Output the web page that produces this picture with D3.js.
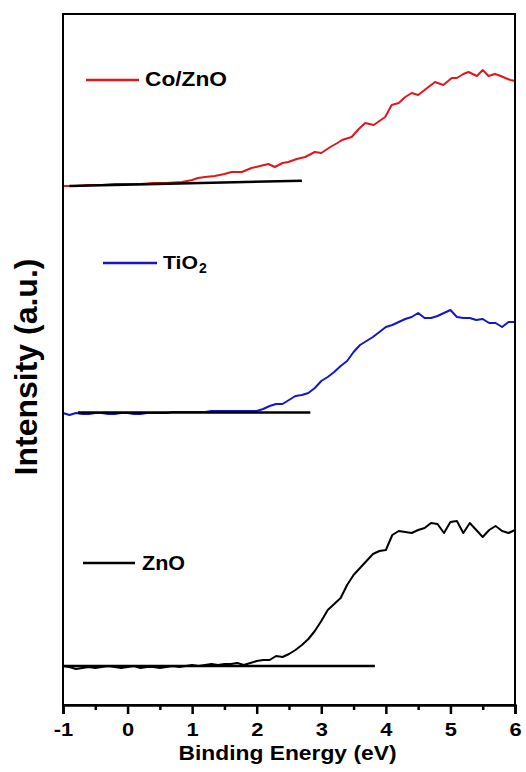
<!DOCTYPE html>
<html>
<head>
<meta charset="utf-8">
<script src="https://cdn.jsdelivr.net/npm/d3@7"></script>
<style>
  body { margin: 0; background: #fff; }
  text { font-family: "Liberation Sans", Arial, sans-serif; font-weight: bold; fill: #000; }
</style>
</head>
<body>
<div id="chart"></div>
<script>
// Binding energy (eV), intensity (a.u., curves stacked with offsets)
const znoSpectrum = [
  [-1.0,0.39],[-0.9,0.38],[-0.8,0.36],[-0.7,0.37],[-0.6,0.38],[-0.5,0.37],[-0.4,0.38],[-0.3,0.39],
  [-0.2,0.38],[-0.1,0.37],[0.0,0.38],[0.1,0.39],[0.2,0.37],[0.3,0.38],[0.4,0.38],[0.5,0.37],
  [0.6,0.38],[0.7,0.39],[0.8,0.38],[0.9,0.39],[1.0,0.40],[1.1,0.39],[1.2,0.40],[1.3,0.41],
  [1.4,0.40],[1.5,0.41],[1.6,0.41],[1.7,0.42],[1.8,0.40],[1.9,0.42],[2.0,0.44],[2.1,0.45],
  [2.2,0.45],[2.3,0.49],[2.4,0.48],[2.5,0.51],[2.6,0.55],[2.7,0.60],[2.8,0.66],[2.9,0.74],
  [3.0,0.84],[3.1,0.95],[3.2,1.01],[3.3,1.07],[3.4,1.20],[3.5,1.30],[3.6,1.37],[3.7,1.44],
  [3.8,1.51],[3.9,1.54],[4.0,1.55],[4.1,1.70],[4.2,1.74],[4.3,1.73],[4.4,1.72],[4.5,1.75],
  [4.6,1.77],[4.7,1.82],[4.8,1.81],[4.9,1.72],[5.0,1.83],[5.1,1.84],[5.2,1.72],[5.3,1.82],
  [5.4,1.75],[5.5,1.68],[5.6,1.75],[5.7,1.79],[5.8,1.74],[5.9,1.72],[6.0,1.75]
];

const tio2Spectrum = [
  [-1.0,2.92],[-0.9,2.90],[-0.8,2.92],[-0.7,2.91],[-0.6,2.91],[-0.5,2.92],[-0.4,2.92],[-0.3,2.91],
  [-0.2,2.91],[-0.1,2.92],[0.0,2.92],[0.1,2.91],[0.2,2.91],[0.3,2.92],[0.4,2.92],[0.5,2.92],
  [0.6,2.92],[0.7,2.93],[0.8,2.93],[0.9,2.93],[1.0,2.93],[1.1,2.93],[1.2,2.93],[1.3,2.94],
  [1.4,2.94],[1.5,2.94],[1.6,2.94],[1.7,2.94],[1.8,2.94],[1.9,2.94],[2.0,2.94],[2.1,2.96],
  [2.2,2.99],[2.3,3.01],[2.4,3.01],[2.5,3.05],[2.6,3.09],[2.7,3.10],[2.8,3.12],[2.9,3.17],
  [3.0,3.24],[3.1,3.28],[3.2,3.33],[3.3,3.39],[3.4,3.44],[3.5,3.53],[3.6,3.60],[3.7,3.64],
  [3.8,3.68],[3.9,3.73],[4.0,3.78],[4.1,3.80],[4.2,3.83],[4.3,3.86],[4.4,3.88],[4.5,3.92],
  [4.6,3.87],[4.7,3.87],[4.8,3.89],[4.9,3.92],[5.0,3.95],[5.1,3.88],[5.2,3.87],[5.3,3.87],
  [5.4,3.85],[5.5,3.86],[5.6,3.82],[5.7,3.82],[5.8,3.78],[5.9,3.83],[6.0,3.83]
];

const coznoSpectrum = [
  [-1.0,5.19],[-0.8,5.19],[-0.6,5.20],[-0.4,5.20],[-0.2,5.21],[-0.1,5.21],[0.1,5.21],[0.2,5.21],
  [0.4,5.22],[0.6,5.22],[0.84,5.23],[1.0,5.25],[1.09,5.27],[1.2,5.28],[1.35,5.29],[1.5,5.31],
  [1.61,5.33],[1.77,5.33],[1.92,5.37],[2.05,5.39],[2.18,5.41],[2.28,5.38],[2.4,5.42],[2.49,5.43],
  [2.62,5.46],[2.75,5.48],[2.9,5.53],[3.0,5.52],[3.14,5.58],[3.25,5.62],[3.32,5.65],[3.47,5.68],
  [3.58,5.76],[3.68,5.82],[3.81,5.80],[3.99,5.88],[4.09,6.00],[4.2,6.02],[4.3,6.08],[4.4,6.12],
  [4.5,6.10],[4.62,6.16],[4.76,6.23],[4.89,6.20],[5.02,6.27],[5.1,6.27],[5.2,6.31],[5.28,6.33],
  [5.41,6.29],[5.5,6.35],[5.59,6.29],[5.69,6.31],[5.78,6.29],[5.85,6.27],[5.93,6.25],[6.0,6.24]
];

// Linear baseline fits (black)
const znoFit = [[-1.0,0.39],[3.83,0.39]];
const tio2Fit = [[-0.77,2.925],[2.83,2.925]];
const coznoFit = [[-0.9,5.19],[2.7,5.243]];

const xTicks = [-1, 0, 1, 2, 3, 4, 5, 6];
const xMinorTicks = [-0.5, 0.5, 1.5, 2.5, 3.5, 4.5, 5.5];

const width = 526, height = 772;
const margin = { top: 14, right: 11, bottom: 67, left: 63 };
const innerW = width - margin.left - margin.right;
const innerH = height - margin.top - margin.bottom;

const svg = d3.select('#chart').append('svg')
  .attr('width', width)
  .attr('height', height);

const g = svg.append('g')
  .attr('transform', `translate(${margin.left},${margin.top})`);

const x = d3.scaleLinear().domain([-1, 6]).range([0, innerW]);
const y = d3.scaleLinear().domain([0, 6.91]).range([innerH, 0]);

const line = d3.line().x(d => x(d[0])).y(d => y(d[1]));

// curves
const series = [
  { data: coznoSpectrum, color: '#e3161c' },
  { data: tio2Spectrum, color: '#1515c9' },
  { data: znoSpectrum, color: '#000' }
];
series.forEach(s => {
  g.append('path')
    .datum(s.data)
    .attr('d', line)
    .attr('fill', 'none')
    .attr('stroke', s.color)
    .attr('stroke-width', 2)
    .attr('stroke-linejoin', 'round');
});

// baseline fits
[coznoFit, tio2Fit, znoFit].forEach(f => {
  g.append('path')
    .datum(f)
    .attr('d', line)
    .attr('fill', 'none')
    .attr('stroke', '#000')
    .attr('stroke-width', 2.5);
});

// frame
g.append('rect')
  .attr('width', innerW)
  .attr('height', innerH)
  .attr('fill', 'none')
  .attr('stroke', '#000')
  .attr('stroke-width', 2);

// bottom axis, major + minor ticks
const xAxisG = g.append('g')
  .attr('transform', `translate(0,${innerH})`)
  .call(d3.axisBottom(x).tickValues(xTicks).tickSize(9).tickPadding(9).tickFormat(d => String(d)));
xAxisG.select('.domain').attr('stroke-width', 2.5);
xAxisG.selectAll('.tick line').attr('stroke-width', 2.5);
xAxisG.selectAll('.tick text')
  .attr('font-size', 19)
  .attr('font-family', '"Liberation Sans", Arial, sans-serif')
  .attr('font-weight', 'bold')
  .attr('transform', 'scale(1.15,1)');

g.append('g')
  .attr('transform', `translate(0,${innerH})`)
  .call(d3.axisBottom(x).tickValues(xMinorTicks).tickSize(5).tickFormat(''))
  .call(a => a.select('.domain').remove())
  .selectAll('.tick line').attr('stroke-width', 2.5);

// axis titles
svg.append('text')
  .attr('x', 287.5)
  .attr('y', 760)
  .attr('text-anchor', 'middle')
  .attr('font-size', 21)
  .attr('textLength', 218)
  .attr('lengthAdjust', 'spacingAndGlyphs')
  .text('Binding Energy (eV)');

svg.append('text')
  .attr('transform', 'translate(37,367) rotate(-90)')
  .attr('text-anchor', 'middle')
  .attr('font-size', 32)
  .text('Intensity (a.u.)');

// legend entries
const legend = [
  { label: 'Co/ZnO', color: '#e3161c', x1: 86, x2: 139, ly: 80, tx: 145, ty: 86, size: 21, len: 82 },
  { label: 'TiO', sub: '2', color: '#1515c9', x1: 103, x2: 157, ly: 263, tx: 163, ty: 269, size: 19, len: 35 },
  { label: 'ZnO', color: '#000', x1: 83, x2: 135, ly: 563, tx: 142, ty: 570, size: 20, len: 43 }
];
legend.forEach(l => {
  svg.append('line')
    .attr('x1', l.x1).attr('x2', l.x2)
    .attr('y1', l.ly).attr('y2', l.ly)
    .attr('stroke', l.color)
    .attr('stroke-width', 2.5);
  svg.append('text')
    .attr('x', l.tx)
    .attr('y', l.ty)
    .attr('font-size', l.size)
    .attr('textLength', l.len)
    .attr('lengthAdjust', 'spacingAndGlyphs')
    .text(l.label);
  if (l.sub) {
    svg.append('text')
      .attr('x', l.tx + l.len + 1)
      .attr('y', l.ty + 4)
      .attr('font-size', 14)
      .text(l.sub);
  }
});
</script>
</body>
</html>
